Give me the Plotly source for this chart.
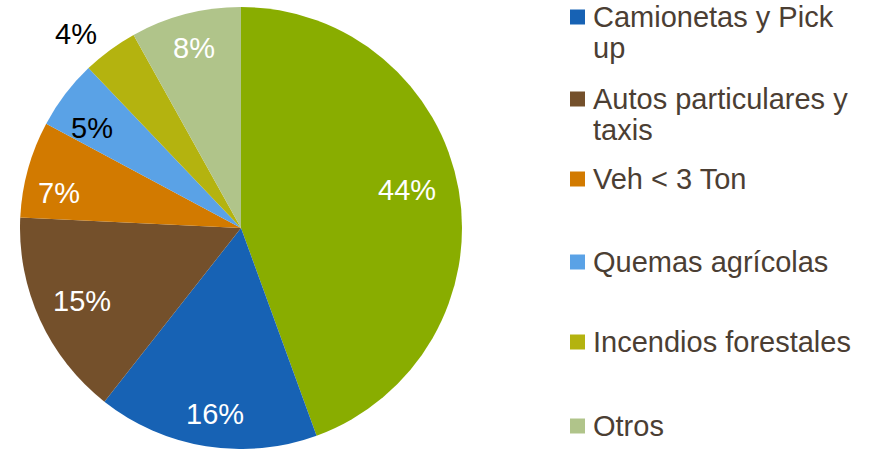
import math
import plotly.graph_objects as go

W, H = 870, 449

# slice data, clockwise from 12 o'clock
categories = [
    "Camiones y buses",
    "Camionetas y Pick up",
    "Autos particulares y taxis",
    "Veh < 3 Ton",
    "Quemas agrícolas",
    "Incendios forestales",
    "Otros",
]
shares = [44, 16, 15, 7, 5, 4, 8]
colors = ["#89AD00", "#1762B4", "#74502B", "#D27A00", "#5AA2E6", "#B4B30F", "#B0C48A"]
label_colors = ["white", "white", "white", "white", "black", "black", "white"]
label_radius = [0.77, 0.85, 0.79, 0.84, 0.81, 1.15, 0.84]
label_shift = [-3, -1, 0, -4.5, -3.5, -4, 0]  # degrees off the slice's mid angle

# legend entries shown on the right (first slice has no visible entry)
legend_lines = [
    ["Camionetas y Pick", "up"],
    ["Autos particulares y", "taxis"],
    ["Veh < 3 Ton"],
    ["Quemas agrícolas"],
    ["Incendios forestales"],
    ["Otros"],
]
legend_y = [17, 99, 179, 262, 342, 426]

FONT = "Arial"


def px(x):
    return x / W


def py(y):
    return 1 - y / H


cx, cy, R = 241, 228, 221

fig = go.Figure(
    go.Pie(
        labels=categories,
        values=shares,
        sort=False,
        direction="clockwise",
        rotation=0,
        marker=dict(colors=colors, line=dict(width=0)),
        textinfo="none",
        showlegend=False,
        domain=dict(x=[px(cx - R), px(cx + R)], y=[max(0, py(cy + R)), min(1, py(cy - R))]),
    )
)

# percentage labels placed along each slice's mid angle
total = sum(shares)
acc = 0
for v, col, rf, sh in zip(shares, label_colors, label_radius, label_shift):
    mid = (acc + v / 2) / total * 2 * math.pi + math.radians(sh)
    acc += v
    fig.add_annotation(
        text=f"{v}%", xref="paper", yref="paper",
        x=px(cx + rf * R * math.sin(mid)), y=py(cy - rf * R * math.cos(mid)),
        xanchor="center", yanchor="middle",
        showarrow=False, font=dict(size=29, color=col, family=FONT),
    )

font = dict(size=29, color="#4B3E33", family=FONT)
for lines, y0, c in zip(legend_lines, legend_y, colors[1:]):
    fig.add_shape(
        type="rect", xref="paper", yref="paper",
        x0=px(570), x1=px(585), y0=py(y0 - 7.5), y1=py(y0 + 7.5),
        fillcolor=c, line=dict(width=0),
    )
    for i, t in enumerate(lines):
        fig.add_annotation(
            text=t, xref="paper", yref="paper",
            x=px(591), y=py(y0 + 31 * i),
            xanchor="left", yanchor="middle", showarrow=False, font=font,
        )

fig.update_layout(
    width=W,
    height=H,
    margin=dict(l=0, r=0, t=0, b=0),
    paper_bgcolor="white",
    plot_bgcolor="white",
)

# drop the browser's default 8px body margin so the 870x449 figure fills the window
fig.write_html(
    "out.html",
    config={"displayModeBar": False},
    post_script="document.body.style.margin = '0';",
)
